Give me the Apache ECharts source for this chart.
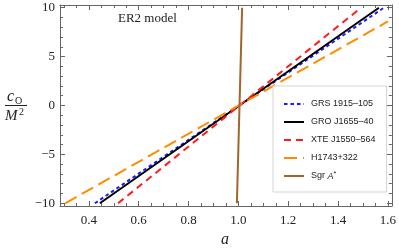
<!DOCTYPE html>
<html>
<head>
<meta charset="utf-8">
<script src="https://cdn.jsdelivr.net/npm/echarts@6/dist/echarts.min.js"></script>
<style>html,body{margin:0;padding:0;background:#fff}#c{width:399px;height:250px}</style>
</head>
<body>
<div id="c"></div>
<script>
// ---- data ----
const seriesNames = ['GRS 1915–105', 'GRO J1655–40', 'XTE J1550–564', 'H1743+322', 'Sgr A*'];
const grsA = [0.424, 1.584];   const grsC = [-10, 10];
const groA = [0.444, 1.564];   const groC = [-10, 10];
const xteA = [0.517, 1.492];   const xteC = [-10, 10];
const hA   = [0.305, 1.600];   const hC   = [-10, 8.6];
const sgrA = [0.994, 1.015];   const sgrC = [-10, 10];

const xTicks = [0.4, 0.6, 0.8, 1.0, 1.2, 1.4, 1.6];
const xTickLabels = ['0.4', '0.6', '0.8', '1.0', '1.2', '1.4', '1.6'];
const yTicks = [-10, -5, 0, 5, 10];
const yTickLabels = ['−10', '−5', '0', '5', '10'];
const xRange = [0.284, 1.616];
const yRange = [-10.28, 10.28];
const xMinorStep = 0.05, yMinorStep = 1;

// ---- build ----
function pts(a, c) { return a.map((v, i) => [v, c[i]]); }
function minorTicks(r, step) {
  const out = [];
  for (let v = Math.ceil(r[0] / step) * step; v <= r[1] + 1e-9; v += step) out.push(+v.toFixed(4));
  return out;
}
const xMinor = minorTicks(xRange, xMinorStep);
const yMinor = minorTicks(yRange, yMinorStep);

const axisColor = '#666';
const serif = '"Liberation Serif", "DejaVu Serif", serif';

function xAx(pos, vals, len, showLine, showLabel) {
  return {
    type: 'value', position: pos, min: xRange[0], max: xRange[1],
    axisLine: { show: showLine, onZero: false, lineStyle: { color: axisColor, width: 1 } },
    axisTick: { show: true, inside: true, length: len, customValues: vals, lineStyle: { color: axisColor, width: 1 } },
    axisLabel: showLabel ? {
      show: true, customValues: xTicks, margin: 8, color: '#222', fontFamily: serif, fontSize: 13,
      formatter: v => { const i = xTicks.findIndex(t => Math.abs(t - v) < 1e-6); return i >= 0 ? xTickLabels[i] : ''; }
    } : { show: false },
    splitLine: { show: false }
  };
}
function yAx(pos, vals, len, showLine, showLabel) {
  return {
    type: 'value', position: pos, min: yRange[0], max: yRange[1],
    axisLine: { show: showLine, onZero: false, lineStyle: { color: axisColor, width: 1 } },
    axisTick: { show: true, inside: true, length: len, customValues: vals, lineStyle: { color: axisColor, width: 1 } },
    axisLabel: showLabel ? {
      show: true, customValues: yTicks, margin: 5, color: '#222', fontFamily: serif, fontSize: 13,
      formatter: v => { const i = yTicks.findIndex(t => Math.abs(t - v) < 1e-6); return i >= 0 ? yTickLabels[i] : ''; }
    } : { show: false },
    splitLine: { show: false }
  };
}

const styles = [
  { color: '#1a1aff', type: [3.5, 3] },
  { color: '#000000', type: 'solid' },
  { color: '#ff1a1a', type: [7, 5] },
  { color: '#ff8c00', type: [13, 6] },
  { color: '#a0662a', type: 'solid' }
];
const datas = [pts(grsA, grsC), pts(groA, groC), pts(xteA, xteC), pts(hA, hC), pts(sgrA, sgrC)];

const series = seriesNames.map((n, i) => ({
  name: n, type: 'line', xAxisIndex: 0, yAxisIndex: 0,
  symbol: 'none', showSymbol: false, animation: false, z: 3,
  data: datas[i],
  lineStyle: { color: styles[i].color, width: 2, type: styles[i].type, cap: 'butt' },
  itemStyle: { color: styles[i].color }
}));

const chart = echarts.init(document.getElementById('c'), null, { renderer: 'canvas' });
chart.setOption({
  animation: false,
  grid: { left: 60, right: 6, top: 5, bottom: 44, containLabel: false },
  xAxis: [
    xAx('bottom', xTicks, 5, true, true),
    xAx('bottom', xMinor, 3, false, false),
    xAx('top', xTicks, 5, true, false),
    xAx('top', xMinor, 3, false, false)
  ],
  yAxis: [
    yAx('left', yTicks, 5, true, true),
    yAx('left', yMinor, 3, false, false),
    yAx('right', yTicks, 5, true, false),
    yAx('right', yMinor, 3, false, false)
  ],
  legend: {
    orient: 'vertical', left: 273, top: 86,
    backgroundColor: '#fff', borderColor: '#d4d4d4', borderWidth: 1, borderRadius: 0,
    padding: [13, 11, 11, 10], itemGap: 8, itemWidth: 20, itemHeight: 10,
    data: seriesNames,
    itemStyle: { opacity: 0 },
    textStyle: {
      fontFamily: '"Liberation Sans", Arial, sans-serif', fontSize: 9, color: '#222', lineHeight: 10,
      padding: [0, 0, 0, 2],
      rich: {
        n: { fontFamily: '"Liberation Sans", Arial, sans-serif', fontSize: 9, color: '#222' },
        i: { fontFamily: '"Liberation Sans", Arial, sans-serif', fontSize: 9, fontStyle: 'italic', color: '#222' },
        s: { fontFamily: '"Liberation Sans", Arial, sans-serif', fontSize: 7, color: '#222', verticalAlign: 'top', padding: [0, 0, 3, 0] }
      }
    },
    formatter: name => name === 'Sgr A*' ? '{n|Sgr }{i|A}{s|*}' : name
  },
  graphic: [
    { type: 'text', left: 118, top: 12, style: { text: 'ER2 model', font: '13px ' + serif, fill: '#222' } },
    { type: 'text', left: 221, top: 232, style: { text: 'a', font: 'italic 16px ' + serif, fill: '#222' } },
    { type: 'text', left: 7, top: 89, style: { text: 'c', font: 'italic 16px ' + serif, fill: '#222' } },
    { type: 'text', left: 15, top: 96, style: { text: 'O', font: '10px ' + serif, fill: '#222' } },
    { type: 'line', shape: { x1: 5, y1: 105.5, x2: 27, y2: 105.5 }, style: { stroke: '#222', lineWidth: 1 } },
    { type: 'text', left: 5, top: 109, style: { text: 'M', font: 'italic 15px ' + serif, fill: '#222' } },
    { type: 'text', left: 19, top: 107, style: { text: '2', font: '10px ' + serif, fill: '#222' } }
  ],
  series: series
});
</script>
</body>
</html>
